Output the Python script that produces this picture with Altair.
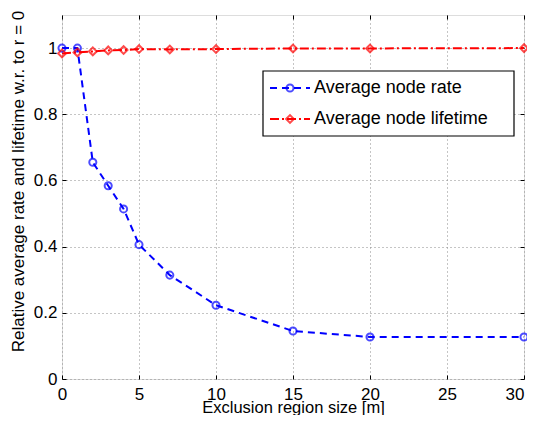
import altair as alt
import pandas as pd

x_vals = [0, 1, 2, 3, 4, 5, 7, 10, 15, 20, 30]
rate = [1.0, 1.0, 0.655, 0.584, 0.514, 0.406, 0.314, 0.223, 0.145, 0.127, 0.127]
lifetime = [0.984, 0.987, 0.990, 0.993, 0.994, 0.997, 0.996, 0.997, 0.999, 0.999, 1.0]
legend_labels = ["Average node rate", "Average node lifetime"]
x_ticks = [0, 5, 10, 15, 20, 25, 30]
y_ticks = [0, 0.2, 0.4, 0.6, 0.8, 1.0]
x_title = "Exclusion region size [m]"
y_title = "Relative average rate and lifetime w.r. to r = 0"

W, H = 462, 364
FONT = "Liberation Sans"
BLUE = "#0000ff"
RED = "#ff0000"

df = pd.DataFrame({"x": x_vals, "rate": rate, "lifetime": lifetime})
xs = alt.Scale(domain=[0, 30], nice=False, zero=False)
ys = alt.Scale(domain=[0, 1.1], nice=False, zero=False)

main_x_axis = alt.Axis(values=x_ticks, title=x_title, grid=True, gridDash=[1, 3],
                       gridColor="#8a8a8a", gridWidth=1, ticks=False, domain=False,
                       format="~g",
                       labelFont=FONT, labelFontSize=17, labelColor="black",
                       labelAlign=alt.ConditionalAxisLabelAlign(
                           condition={"test": "datum.value >= 30", "value": "right"},
                           value="center"),
                       labelBaseline="alphabetic", labelPadding=20, labelFlush=False,
                       titleFont=FONT, titleFontSize=16.5, titleFontWeight="normal",
                       titleColor="black", titleBaseline="alphabetic", titleY=33,
                       titleX=W / 2)
main_y_axis = alt.Axis(values=y_ticks, title=y_title, grid=True, gridDash=[1, 3],
                       gridColor="#8a8a8a", gridWidth=1, ticks=False, domain=False,
                       format="~g",
                       labelFont=FONT, labelFontSize=17, labelColor="black",
                       labelPadding=5, labelFlush=False, labelBaseline="middle",
                       titleFont=FONT, titleFontSize=17, titleFontWeight="normal",
                       titleColor="black", titleX=-35, titleY=166)


def tick_axis(orient, offset, vals):
    return alt.Axis(orient=orient, offset=offset, values=vals, labels=False, title=None,
                    domain=False, grid=False, ticks=True, tickSize=4,
                    tickColor="black", tickWidth=1)


base = alt.Chart(df)

blue_line = base.mark_line(color=BLUE, strokeWidth=2, strokeDash=[7, 5]).encode(
    x=alt.X("x:Q", scale=xs, axis=main_x_axis),
    y=alt.Y("rate:Q", scale=ys, axis=main_y_axis),
)
red_line = base.mark_line(color=RED, strokeWidth=2, strokeDash=[9, 3, 2, 3]).encode(
    x=alt.X("x:Q", scale=xs, axis=tick_axis("top", -H, x_ticks)),
    y=alt.Y("lifetime:Q", scale=ys, axis=tick_axis("right", -W, y_ticks)),
)
blue_pts = base.mark_point(shape="circle", size=50, color=BLUE, strokeWidth=2,
                           filled=False).encode(
    x=alt.X("x:Q", scale=xs, axis=tick_axis("bottom", -H, x_ticks)),
    y=alt.Y("rate:Q", scale=ys, axis=tick_axis("left", -W, y_ticks)),
)
red_pts = base.mark_point(shape="diamond", size=60, color=RED, strokeWidth=2,
                          filled=False).encode(
    x=alt.X("x:Q", scale=xs, axis=None),
    y=alt.Y("lifetime:Q", scale=ys, axis=None),
)

# Legend (drawn in pixel space inside the plot)
leg_df = pd.DataFrame({"label": legend_labels})
leg_box = alt.Chart(leg_df.head(1)).mark_rect(fill="white", stroke="black",
                                               strokeWidth=1.2).encode(
    x=alt.value(201), x2=alt.value(452), y=alt.value(56), y2=alt.value(121))

legend_layers = [leg_box]
for i, (lab, col, dash, shape) in enumerate([
        (legend_labels[0], BLUE, [7, 5], "circle"),
        (legend_labels[1], RED, [9, 3, 2, 3], "diamond")]):
    ly = 73 + i * 31
    d = pd.DataFrame({"label": [lab]})
    legend_layers.append(alt.Chart(d).mark_rule(color=col, strokeWidth=2, strokeDash=dash).encode(
        x=alt.value(208), x2=alt.value(248), y=alt.value(ly)))
    legend_layers.append(alt.Chart(d).mark_point(shape=shape, size=50 if shape == "circle" else 60,
                                                 color=col, strokeWidth=2, filled=False).encode(
        x=alt.value(228), y=alt.value(ly)))
    legend_layers.append(alt.Chart(d).mark_text(align="left", baseline="middle", font=FONT,
                                                fontSize=18, color="black").encode(
        x=alt.value(252), y=alt.value(ly), text="label:N"))

chart = alt.layer(blue_line, red_line, blue_pts, red_pts, *legend_layers).resolve_axis(
    x="independent", y="independent"
).properties(
    width=W, height=H,
    autosize=alt.AutoSizeParams(type="none"),
    padding={"left": 54, "top": 7, "right": 3, "bottom": 36},
).configure_view(stroke="black", strokeWidth=1.2).configure(background="white")

chart.save("out.html", embed_options={"renderer": "svg", "actions": False})
